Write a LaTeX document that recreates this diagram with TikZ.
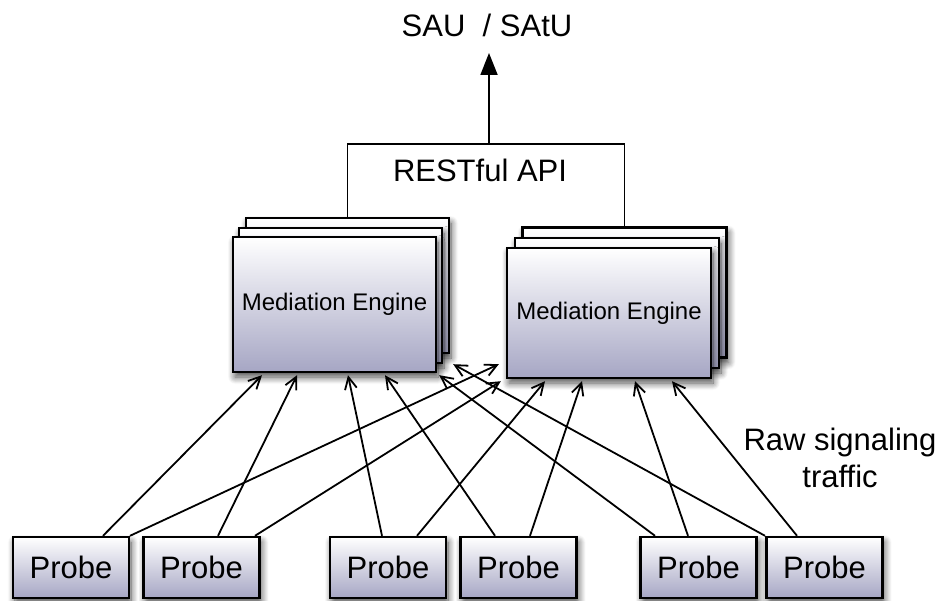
\documentclass[tikz,border=0pt]{standalone}
\usepackage{fontspec}
\setmainfont{Liberation Sans}
\usetikzlibrary{arrows.meta,shadows.blur,calc}
\definecolor{lav}{RGB}{166,166,196}
\begin{document}
\begin{tikzpicture}[x=1pt,y=-1pt,
 box/.style={draw=black, line width=2.4pt, top color=white, bottom color=lav, inner sep=0pt,
   blur shadow={shadow xshift=2pt,shadow yshift=-5pt,shadow blur radius=7pt,shadow blur steps=10,shadow opacity=70}},
 engineL/.style={box, minimum width=203pt, minimum height=135pt, font=\fontsize{24}{28}\selectfont},
 engineR/.style={box, minimum width=204pt, minimum height=130pt, font=\fontsize{24}{28}\selectfont},
 probe/.style={box, minimum width=116pt, minimum height=61pt, font=\fontsize{31}{37}\selectfont},
 txt/.style={font=\fontsize{31}{37}\selectfont, inner sep=0pt, align=center},
 feed/.style={line width=1.8pt, -{Straight Barb[length=12pt,width=12pt,line width=1.8pt]}},
]
\useasboundingbox (0,0) rectangle (941,601);

% engines
\node[engineL] (LEb) at (347.5,285.5) {};
\node[engineL] (LEm) at (340.5,295.5) {};
\node[engineL] (LE) at (334.5,304.5) {Mediation Engine};
\node[engineR] (REb) at (624.5,292.5) {};
\node[engineR] (REm) at (617,303) {};
\node[engineR] (RE) at (609,313) {Mediation Engine};

% probes
\node[probe] (P1) at (71,567.5) {Probe};
\node[probe] (P2) at (201.5,567.5) {Probe};
\node[probe] (P3) at (388,567.5) {Probe};
\node[probe] (P4) at (518.5,567.5) {Probe};
\node[probe] (P5) at (698.5,567.5) {Probe};
\node[probe] (P6) at (824.5,567.5) {Probe};

% texts
\node[txt] (sau) at (487,25) {SAU\ \ / SAtU};
\node[txt] (api) at (480,170) {RESTful API};
\node[txt] (raw) at (840,458) {Raw signaling\\traffic};

% API bracket and arrow
\coordinate (apitop) at (489,144);
\coordinate (tip) at (489,53);
\draw[line width=1.8pt] (LEb.north) |- (apitop) -| (REb.north);
\draw[line width=1.8pt, -{Triangle[length=22pt,width=17pt]}] (apitop) -- (tip);

% raw traffic
\draw[feed] ($(P1.north)+(32,0)$) -- ($(LE.south)+(-72.5,2)$);
\draw[feed] ($(P1.north)+(59,0)$) -- ($(RE.south west)+(-7,-15)$);
\draw[feed] ($(P2.north)+(16.5,0)$) -- ($(LE.south)+(-37.5,2)$);
\draw[feed] ($(P2.north)+(53.5,0)$) -- ($(RE.south west)+(-5,2)$);
\draw[feed] ($(P3.north)+(-6,0)$) -- ($(LE.south)+(13.5,2)$);
\draw[feed] ($(P3.north)+(29,0)$) -- ($(RE.south)+(-64,2)$);
\draw[feed] ($(P4.north)+(-23.5,0)$) -- ($(LE.south)+(50.5,2)$);
\draw[feed] ($(P4.north)+(11.5,0)$) -- ($(RE.south)+(-27,2)$);
\draw[feed] ($(P5.north)+(-43.5,0)$) -- ($(LE.south east)+(2,2)$);
\draw[feed] ($(P5.north)+(-10.5,0)$) -- ($(RE.south)+(26,2)$);
\draw[feed] ($(P6.north)+(-59.5,0)$) -- ($(LEm.south east)+(10,0)$);
\draw[feed] ($(P6.north)+(-27.5,0)$) -- ($(RE.south)+(63,2)$);
\end{tikzpicture}
\end{document}
